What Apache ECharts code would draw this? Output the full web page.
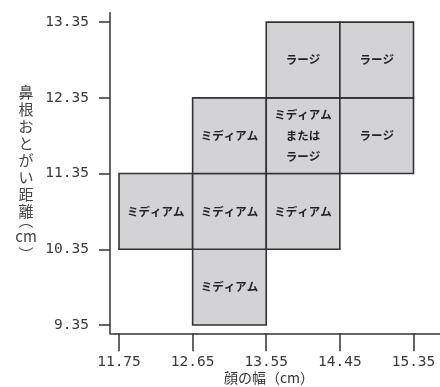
<!DOCTYPE html>
<html><head><meta charset="utf-8">
<script src="https://cdn.jsdelivr.net/npm/echarts@6/dist/echarts.min.js"></script>
<style>html,body{margin:0;padding:0;background:#fff}#c{width:440px;height:387px}</style>
</head><body><div id="c"></div>
<script>
const xTicks = [11.75, 12.65, 13.55, 14.45, 15.35];
const yTicks = [9.35, 10.35, 11.35, 12.35, 13.35];
const binW = 0.9;
const binH = 1.0;
const cellX = [12.65, 11.75, 12.65, 13.55, 12.65, 13.55, 14.45, 13.55, 14.45];
const cellY = [9.35, 10.35, 10.35, 10.35, 11.35, 11.35, 11.35, 12.35, 12.35];
const cellLabel = ['ミディアム', 'ミディアム', 'ミディアム', 'ミディアム', 'ミディアム',
  'ミディアム\nまたは\nラージ', 'ラージ', 'ラージ', 'ラージ'];
const xName = '顔の幅（cm）';
const yNameMain = '鼻\n根\nお\nと\nが\nい\n距\n離';

const chart = echarts.init(document.getElementById('c'), null, {renderer: 'canvas'});
const tickFont = 'DejaVu Sans Mono';
const cjk = '"Noto Sans CJK JP", sans-serif';
chart.setOption({
  animation: false,
  grid: {left: 110, right: 0, top: 12.7, bottom: 53.7, containLabel: false, outerBoundsMode: 'none'},
  xAxis: {
    type: 'value', min: 11.64, max: 15.674,
    axisLine: {show: true, lineStyle: {color: '#333', width: 1.5}},
    axisTick: {show: true, length: 18, customValues: xTicks, lineStyle: {color: '#333', width: 1.5}},
    axisLabel: {customValues: xTicks, margin: 21, fontFamily: tickFont, fontSize: 14.5, color: '#3a3a3a',
      formatter: v => v.toFixed(2)},
    splitLine: {show: false}
  },
  yAxis: {
    type: 'value', min: 9.24, max: 13.475,
    axisLine: {show: true, lineStyle: {color: '#333', width: 1.5}},
    axisTick: {show: true, length: 11, customValues: yTicks, lineStyle: {color: '#333', width: 1.5}},
    axisLabel: {customValues: yTicks, margin: 21, fontFamily: tickFont, fontSize: 14.5, color: '#3a3a3a',
      formatter: v => v.toFixed(2)},
    splitLine: {show: false}
  },
  graphic: [
    {type: 'text', x: 26, y: 84, style: {text: yNameMain, align: 'center', verticalAlign: 'top',
      font: '15px ' + cjk, lineHeight: 17, fill: '#444'}},
    {type: 'text', x: 26, y: 220, style: {text: '︵', align: 'center', verticalAlign: 'middle',
      font: '15px ' + cjk, fill: '#444'}},
    {type: 'text', x: 26, y: 236, style: {text: 'cm', align: 'center', verticalAlign: 'middle',
      font: '15px ' + cjk, fill: '#444'}},
    {type: 'text', x: 26, y: 254, style: {text: '︶', align: 'center', verticalAlign: 'middle',
      font: '15px ' + cjk, fill: '#444'}},
    {type: 'text', x: 269, y: 378, style: {text: xName, align: 'center', verticalAlign: 'middle',
      font: '14px ' + cjk, fill: '#333'}}
  ],
  series: [{
    type: 'custom',
    encode: {x: 0, y: 1},
    data: cellX.map((x, i) => [x, cellY[i], i]),
    renderItem: function (params, api) {
      const x0 = api.value(0), y0 = api.value(1), idx = api.value(2);
      const p0 = api.coord([x0, y0 + binH]);
      const p1 = api.coord([x0 + binW, y0]);
      return {
        type: 'group',
        children: [
          {type: 'rect', shape: {x: p0[0], y: p0[1], width: p1[0] - p0[0], height: p1[1] - p0[1]},
            style: {fill: '#d3d3d5', stroke: '#333', lineWidth: 1.6}},
          {type: 'text', style: {text: cellLabel[idx], x: (p0[0] + p1[0]) / 2, y: (p0[1] + p1[1]) / 2,
            align: 'center', verticalAlign: 'middle', font: 'bold 11.5px ' + cjk, fill: '#222', lineHeight: 21}}
        ]
      };
    }
  }]
});
</script></body></html>
